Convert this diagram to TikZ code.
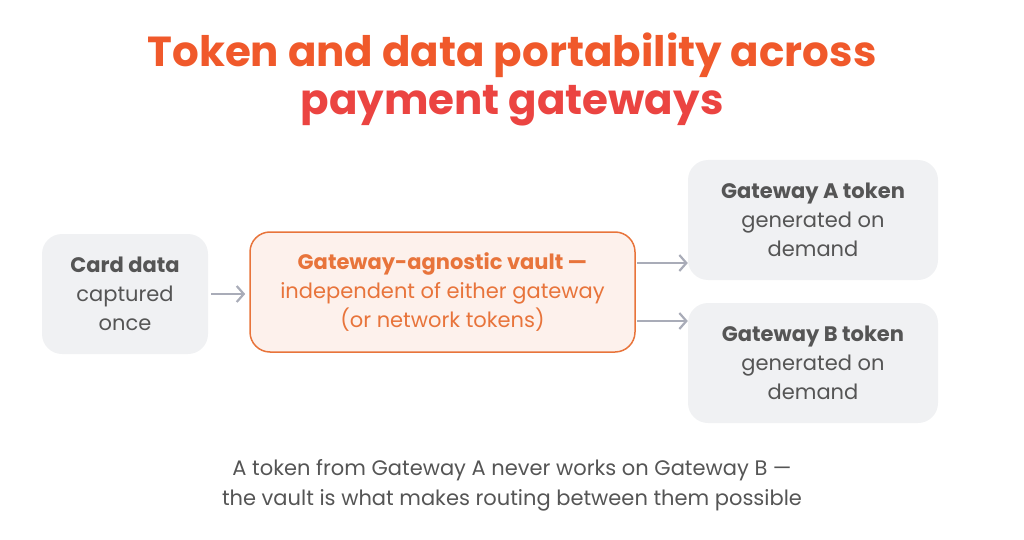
\documentclass[tikz,border=0pt]{standalone}
\usepackage{fontspec}
\setmainfont{Poppins}
\usetikzlibrary{arrows.meta}
\definecolor{boxg}{HTML}{F0F1F3}
\definecolor{vfill}{HTML}{FDF1EC}
\definecolor{vline}{HTML}{E8743B}
\definecolor{txt}{HTML}{555555}
\definecolor{arr}{HTML}{A9ACB8}
\definecolor{tA}{HTML}{F0592B}
\definecolor{tB}{HTML}{E8364F}
\begin{document}
\begin{tikzpicture}[x=1pt,y=-1pt,
  box/.style={rounded corners=20pt,fill=boxg,draw=none,align=center,text=txt,font=\fontsize{21}{29}\selectfont,inner sep=0},
  conn/.style={draw=arr,line width=2.2pt,-{Straight Barb[length=7pt,width=16pt]}}]
\useasboundingbox (0,0) rectangle (1024,540);
\node[font=\fontsize{42}{48}\selectfont\bfseries,align=center,text=tA] (title) at (512,79)
  {Token and data portability across\\\textcolor{tB!60!tA}{payment gateways}};
\node[box,minimum width=166pt,minimum height=120pt] (card) at (125,294)
  {\textbf{Card data}\\captured\\once};
\node[box,fill=vfill,draw=vline,line width=1.5pt,minimum width=385pt,minimum height=120pt,text=vline] (vault) at (442.5,292)
  {\textbf{Gateway-agnostic vault —}\\independent of either gateway\\(or network tokens)};
\node[box,minimum width=250pt,minimum height=120pt] (ga) at (813,220)
  {\textbf{Gateway A token}\\generated on\\demand};
\node[box,minimum width=250pt,minimum height=120pt] (gb) at (813,363)
  {\textbf{Gateway B token}\\generated on\\demand};
\coordinate (v1) at (637,263);
\coordinate (v2) at (637,321);
\draw[conn] (card.east)++(3,0) -- ++(34,0);
\draw[conn] (v1) -- (ga.west |- v1);
\draw[conn] (v2) -- (gb.west |- v2);
\node[font=\fontsize{21}{30}\selectfont,align=center,text=txt] (cap) at (512,485)
  {A token from Gateway A never works on Gateway B —\\the vault is what makes routing between them possible};
\end{tikzpicture}
\end{document}
